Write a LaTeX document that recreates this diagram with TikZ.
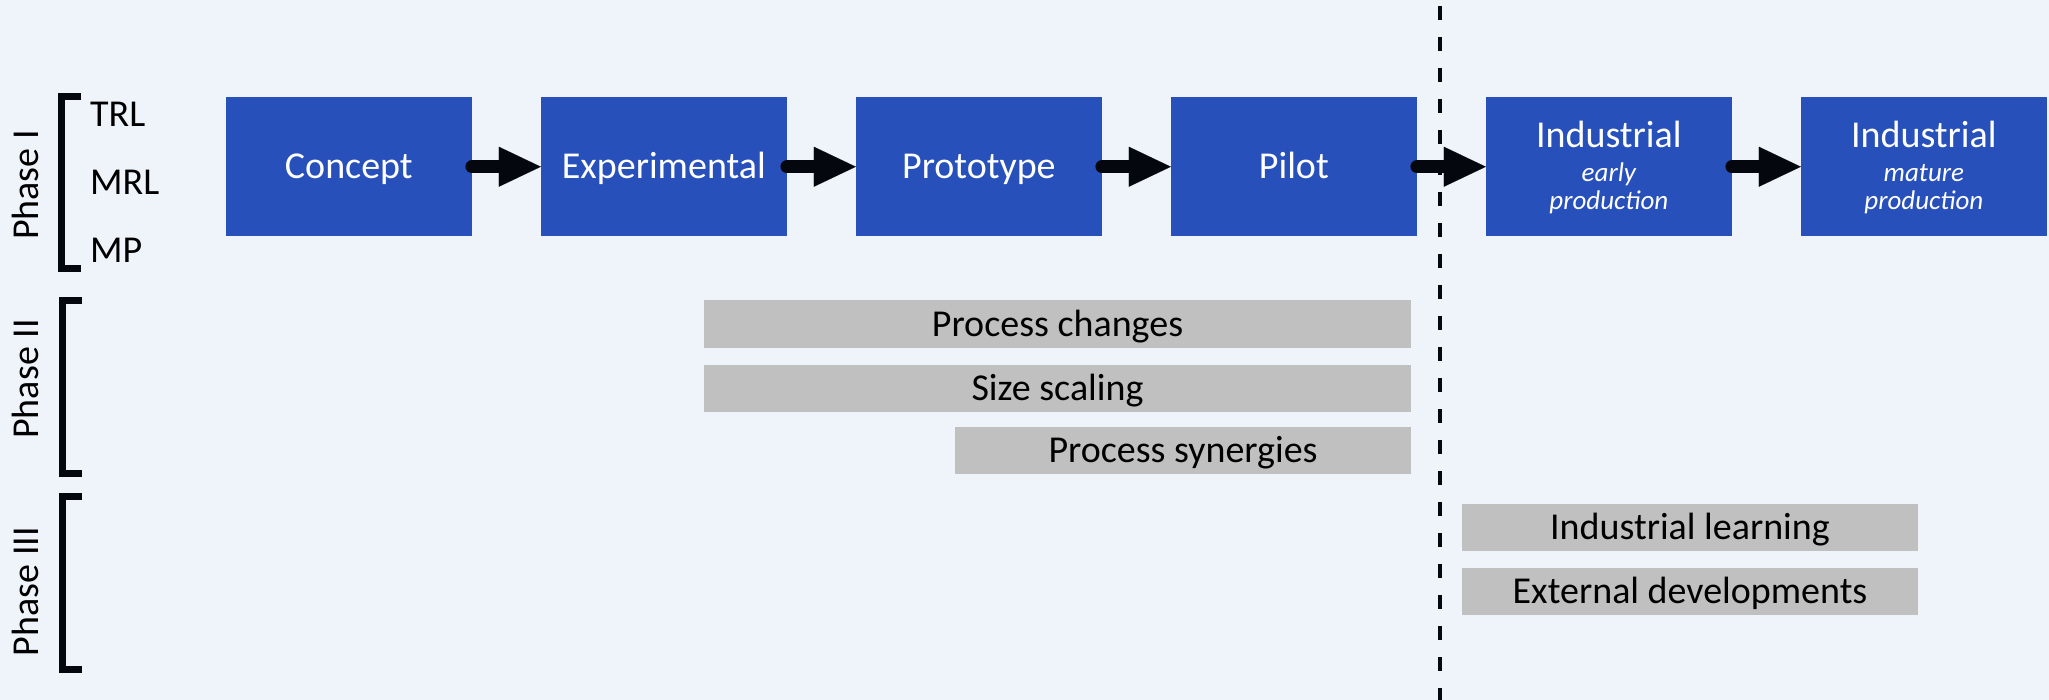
\documentclass[tikz,border=0pt]{standalone}
\usepackage{fontspec}
\setmainfont{Carlito}
\usetikzlibrary{arrows.meta}
\definecolor{pagebg}{RGB}{239,243,250}
\definecolor{stageblue}{RGB}{40,80,186}
\definecolor{bargray}{RGB}{192,192,192}
\definecolor{inkdark}{RGB}{5,7,15}

\begin{document}
\begin{tikzpicture}[x=1pt,y=-1pt,
  mainfont/.style={font=\fontsize{38}{44}\selectfont},
  stagebox/.style={rectangle, fill=stageblue, draw=none, minimum width=245.7pt,
    minimum height=139.5pt, inner sep=0pt, text=white, mainfont,
    text height=31pt, text depth=8pt},
  stagetitle/.style={anchor=base, inner sep=0pt, text=white, mainfont},
  subtext/.style={anchor=base, inner sep=0pt, text=white,
    font=\fontsize{27}{30}\selectfont\itshape},
  factorbar/.style={rectangle, fill=bargray, draw=none, minimum height=47pt,
    inner sep=0pt, text=black, mainfont, text height=31pt, text depth=7pt},
  flowarrow/.style={draw=inkdark, line width=13pt, line cap=round,
    -{Triangle[length=42pt,width=40pt,line width=0.1pt]}},
  phasebracket/.style={draw=inkdark, line width=7pt, line join=miter, line cap=butt},
  phaselabel/.style={rotate=90, anchor=base, inner sep=0pt, text=black, mainfont},
  levellabel/.style={anchor=base west, inner sep=0pt, text=black, mainfont},
  divider/.style={draw=inkdark, line width=4pt, dash pattern=on 14pt off 17pt, dash phase=25pt}
]
% page background and frame
\fill[pagebg] (0,0) rectangle (2049,700);
\useasboundingbox (0,0) rectangle (2049,700);

% divider between development and industrial stages
\coordinate (divtop) at (1440,0);
\coordinate (divbot) at (1440,700);
\draw[divider] (divtop) -- (divbot);

% phase brackets with labels
\draw[phasebracket] (81,96.5) -- (61.5,96.5) -- (61.5,268.5) -- (81,268.5);
\draw[phasebracket] (82,300.2) -- (62,300.2) -- (62,473.2) -- (82,473.2);
\draw[phasebracket] (82,496.8) -- (62,496.8) -- (62,669.8) -- (82,669.8);
\node[phaselabel] (phase1) at (38,185) {Phase I};
\node[phaselabel] (phase2) at (38,379) {Phase II};
\node[phaselabel] (phase3) at (38,591.7) {Phase III};

% readiness levels
\node[levellabel] (trl) at (90,126.7) {TRL};
\node[levellabel] (mrl) at (90,195) {MRL};
\node[levellabel] (mp)  at (90,262.7) {MP};

% stage boxes
\node[stagebox] (concept)  at (348.85,166.75) {Concept};
\node[stagebox] (exper)    at (663.85,166.75) {Experimental};
\node[stagebox] (proto)    at (978.85,166.75) {Prototype};
\node[stagebox] (pilot)    at (1293.85,166.75) {Pilot};
\node[stagebox] (indearly) at (1608.85,166.75) {};
\node[stagebox] (indmature) at (1923.85,166.75) {};

\node[stagetitle] (indearlyT) at (1608.85,148) {Industrial};
\node[subtext] (indearlyA) at (1608.85,181.7) {early};
\node[subtext] (indearlyB) at (1608.85,210) {production};
\node[stagetitle] (indmatureT) at (1923.85,148) {Industrial};
\node[subtext] (indmatureA) at (1923.85,181.7) {mature};
\node[subtext] (indmatureB) at (1923.85,210) {production};

% flow arrows
\draw[flowarrow] (concept.east) -- (exper.west);
\draw[flowarrow] (exper.east) -- (proto.west);
\draw[flowarrow] (proto.east) -- (pilot.west);
\draw[flowarrow] (pilot.east) -- (indearly.west);
\draw[flowarrow] (indearly.east) -- (indmature.west);

% cost-reduction factors
\node[factorbar, minimum width=707pt] (pchanges) at (1057.5,324) {Process changes};
\node[factorbar, minimum width=707pt] (sscaling) at (1057.5,388) {Size scaling};
\node[factorbar, minimum width=456pt] (psyn) at (1183,450.5) {Process synergies};
\node[factorbar, minimum width=456pt] (ilearn) at (1690,527.5) {Industrial learning};
\node[factorbar, minimum width=456pt] (extdev) at (1690,591) {External developments};
\end{tikzpicture}
\end{document}
